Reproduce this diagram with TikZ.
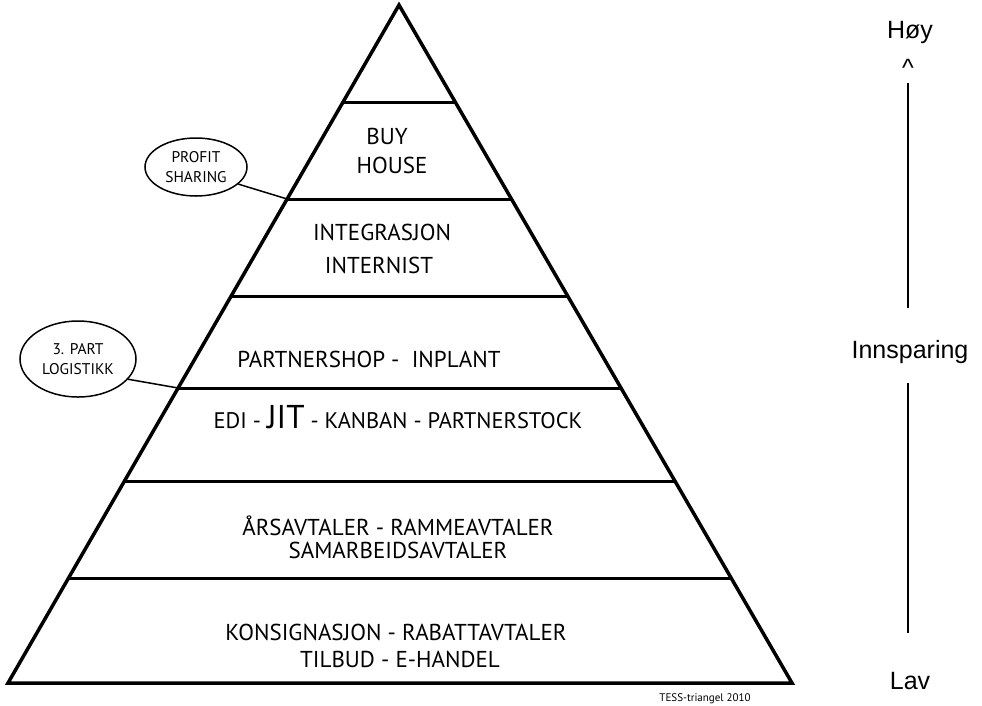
\documentclass[tikz,border=0pt]{standalone}
\usepackage{fontspec}
\setmainfont{PT Sans}
\newfontfamily\arialf{Liberation Sans}
\usetikzlibrary{calc,shapes.geometric}
\begin{document}
\begin{tikzpicture}[x=1pt,y=-1pt,
  outline/.style={line width=3.5pt,line join=miter},
  band/.style={line width=3pt},
  lbl/.style={anchor=base,inner sep=0pt,font=\fontsize{23}{23}\selectfont},
  small/.style={anchor=base,inner sep=0pt,font=\fontsize{22.5}{22.5}\selectfont},
  side/.style={anchor=base,inner sep=0pt,font=\arialf\fontsize{25}{25}\selectfont},
  bubble/.style={draw,ellipse,line width=1.5pt,inner sep=0pt,align=center,font=\fontsize{15.5}{20}\selectfont},
  conn/.style={line width=1.5pt},
  axis/.style={line width=2pt}]
\useasboundingbox (0,0) rectangle (982,705);
% pyramid
\coordinate (A) at (399,5);
\coordinate (BL) at (8,683);
\coordinate (BR) at (792,683);
\draw[outline] (A) -- (BR) -- (BL) -- cycle;
\foreach \n/\yy in {1/103,2/199,3/297,4/388,5/481,6/578}{
  \coordinate (L\n) at ($(A)!{(\yy-5)/678}!(BL)$);
  \coordinate (R\n) at ($(A)!{(\yy-5)/678}!(BR)$);
  \draw[band] (L\n) -- (R\n);
}
% labels
\node[lbl] (buy) at (387,144) {BUY};
\node[lbl] (house) at (392,173) {HOUSE};
\node[lbl] (integ) at (382,240) {INTEGRASJON};
\node[lbl] (intern) at (379,273) {INTERNIST};
\node[lbl] (partner) at (369,367) {PARTNERSHOP -\ \ INPLANT};
\node[small] (edi) at (398,428) {EDI - {\fontsize{33}{33}\selectfont JIT} - KANBAN - PARTNERSTOCK};
\node[lbl] (aars) at (398,535) {ÅRSAVTALER - RAMMEAVTALER};
\node[lbl] (samarb) at (398,558) {SAMARBEIDSAVTALER};
\node[lbl] (konsig) at (396,640) {KONSIGNASJON - RABATTAVTALER};
\node[lbl] (tilbud) at (400,667) {TILBUD - E-HANDEL};
\node[anchor=base,inner sep=0pt,font=\fontsize{11}{11}\selectfont] (tess) at (705,701) {TESS-triangel 2010};
% bubbles
\node[bubble,minimum width=102pt,minimum height=58pt] (profit) at (196,167) {PROFIT\\SHARING};
\draw[conn] (profit.-22) -- (L2);
\node[bubble,minimum width=116pt,minimum height=76pt] (tpl) at (78,359) {3. PART\\LOGISTIKK};
\draw[conn] (tpl.-22) -- (L4);
% right scale
\node[side] (hoy) at (910,38) {Høy};
\node[side] (caret) at (908,76) {\textasciicircum};
\node[side] (innsp) at (910,358) {Innsparing};
\node[side] (lav) at (910,689) {Lav};
\coordinate (t1) at (908,83);
\coordinate (t2) at (908,308);
\coordinate (b1) at (908,383);
\coordinate (b2) at (908,633);
\draw[axis] (t1) -- (t2);
\draw[axis] (b1) -- (b2);
\end{tikzpicture}
\end{document}
